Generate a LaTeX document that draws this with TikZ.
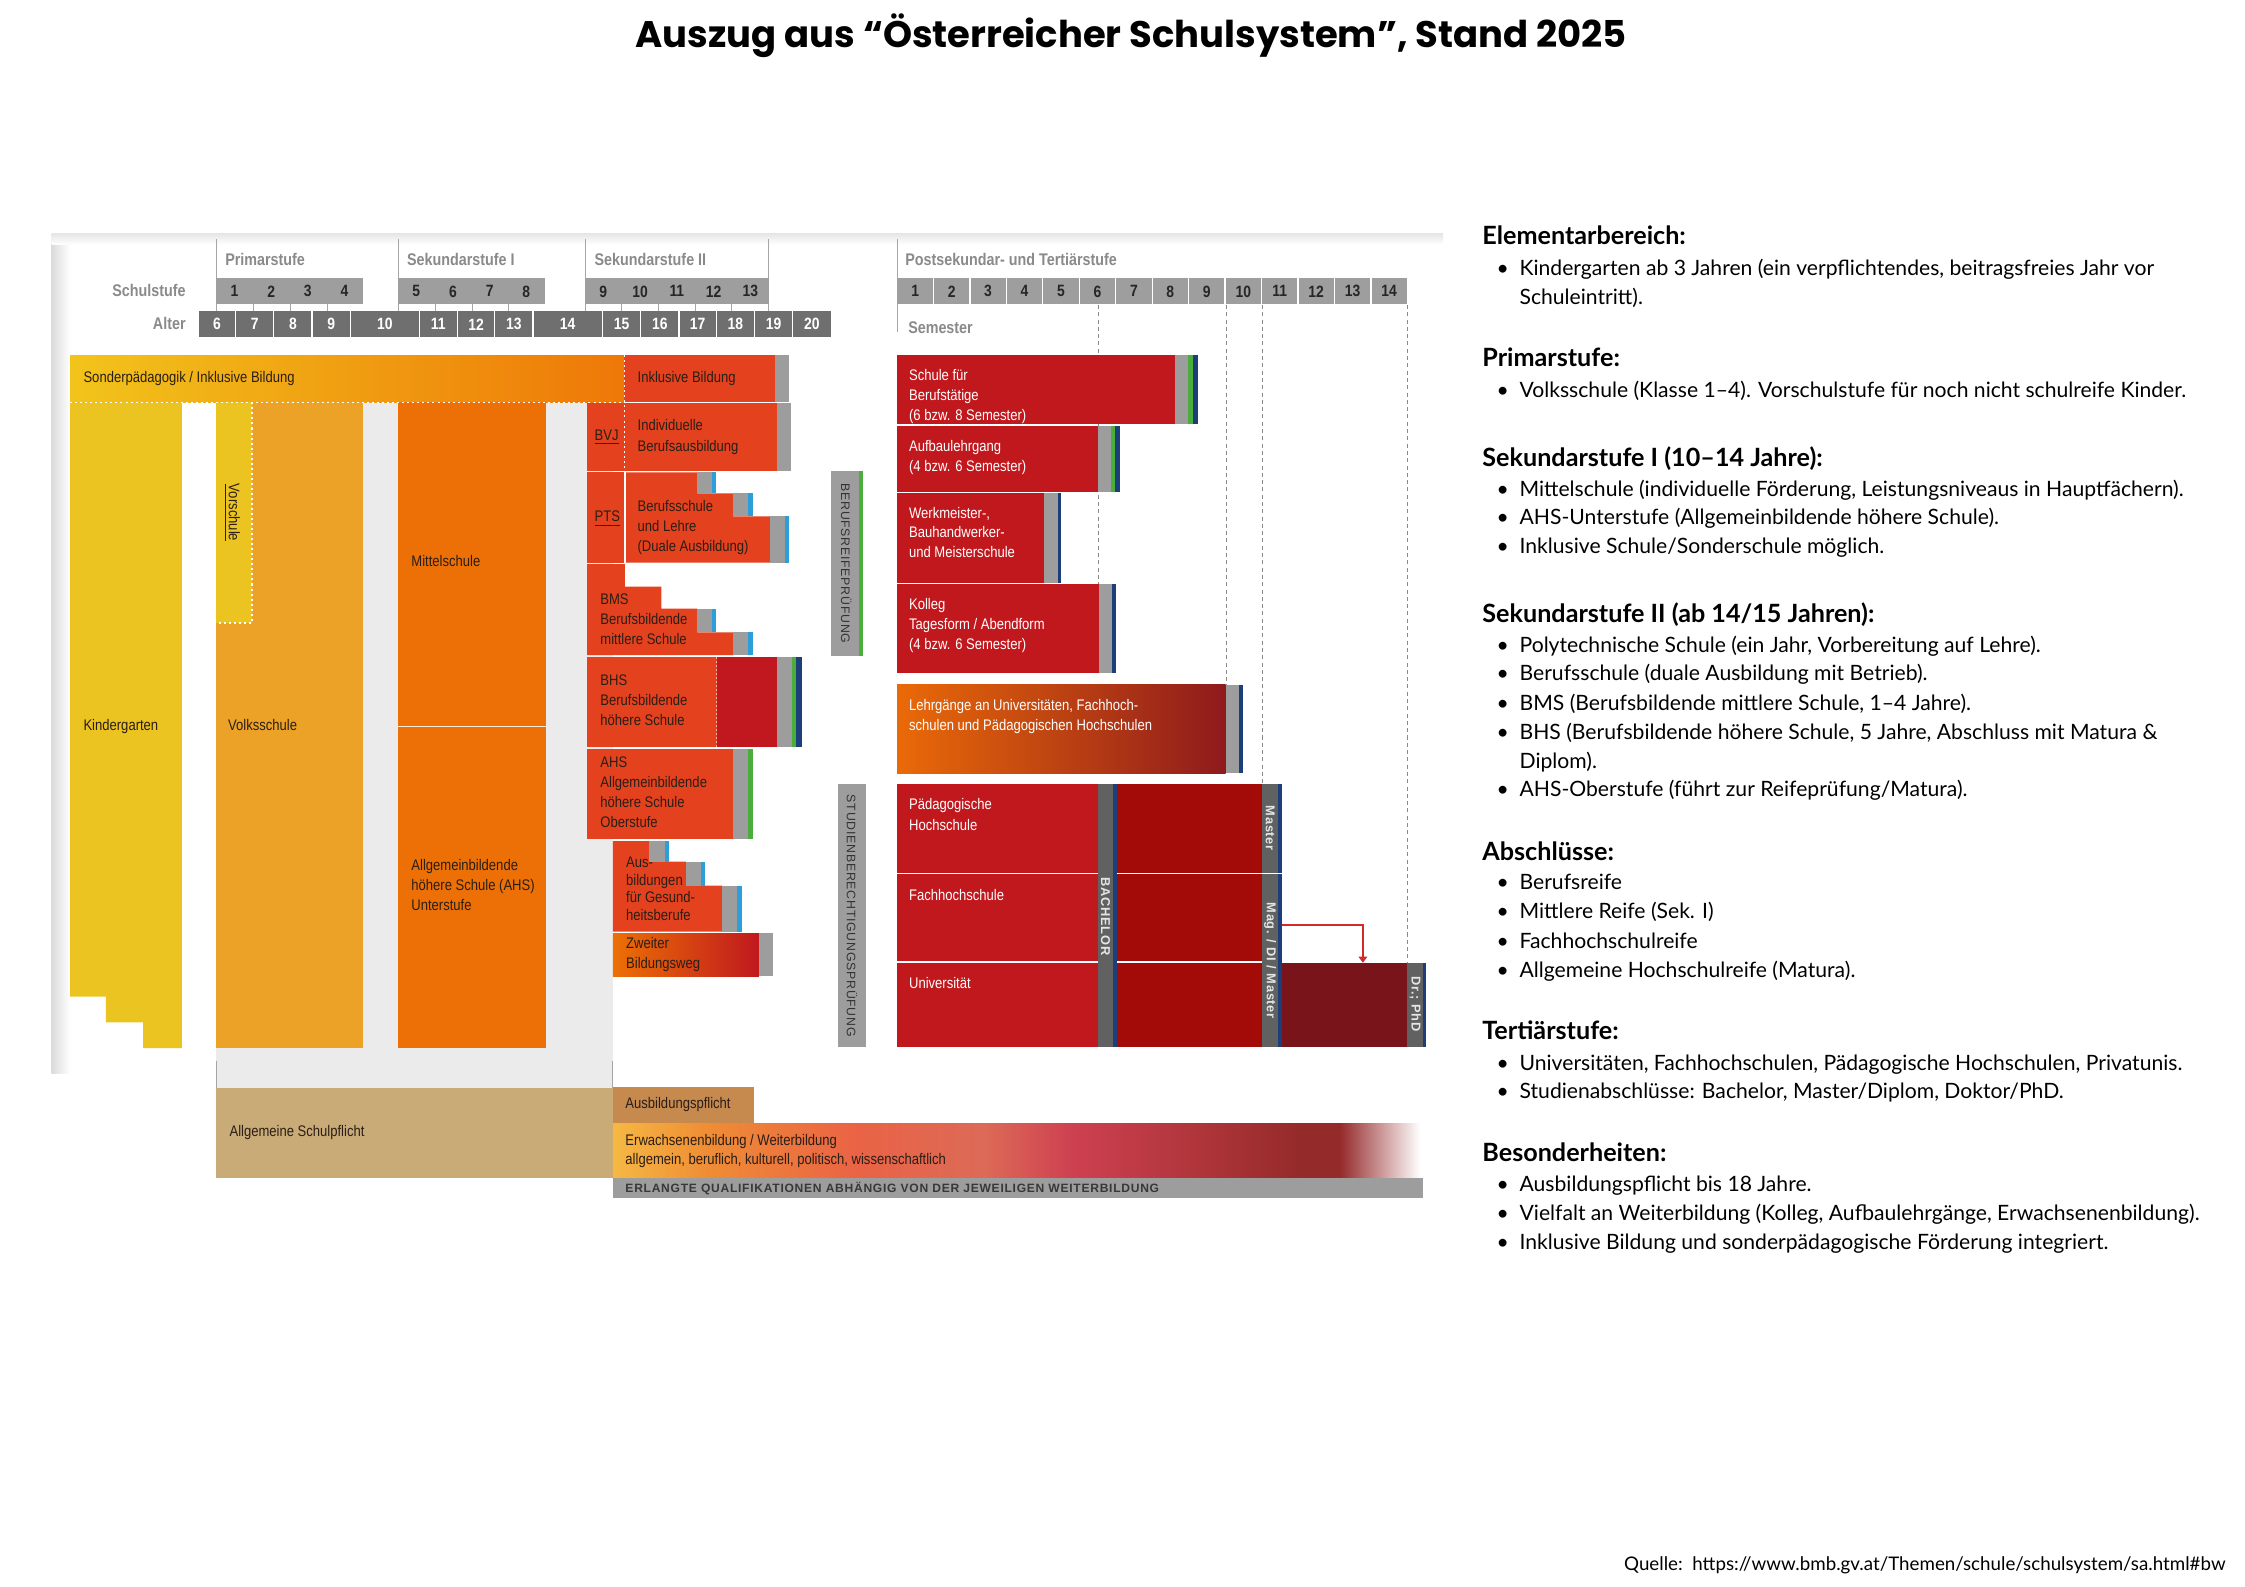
\documentclass[tikz,border=0pt]{standalone}
\usepackage{fontspec}
\setmainfont{Liberation Sans}
\newfontfamily\dgf{Liberation Sans}[FakeStretch=0.85]
\newfontfamily\capf{Liberation Sans}[LetterSpace=6]
\newfontfamily\latof{Lato}
\newfontfamily\titf{Poppins}
\usetikzlibrary{arrows.meta}

\definecolor{cSek}{HTML}{9E9E9E}
\definecolor{cAge}{HTML}{6F6F6F}
\definecolor{cLab}{HTML}{8A8A8A}
\definecolor{cKG}{HTML}{EBC422}
\definecolor{cVS}{HTML}{ECA226}
\definecolor{cMS}{HTML}{EC7005}
\definecolor{cRed}{HTML}{E4421E}
\definecolor{cBHS}{HTML}{C0181E}
\definecolor{cTer}{HTML}{C1181E}
\definecolor{cTerD}{HTML}{A30B08}
\definecolor{cPhD}{HTML}{7A141B}
\definecolor{cBar}{HTML}{9D9D9D}
\definecolor{cBarD}{HTML}{616161}
\definecolor{cGreen}{HTML}{4BAE3C}
\definecolor{cBlue}{HTML}{2C9FDB}
\definecolor{cNavy}{HTML}{1C3F7A}
\definecolor{cBg}{HTML}{EBEBEB}
\definecolor{cTan}{HTML}{C9AB77}
\definecolor{cTanD}{HTML}{C68A4F}
\definecolor{cArrow}{HTML}{D42A2A}
\definecolor{cTxt}{HTML}{2A1E16}
\definecolor{cSonA}{HTML}{F2C41B}
\definecolor{cSonB}{HTML}{EE7808}
\definecolor{cLehA}{HTML}{EA6A08}
\definecolor{cLehB}{HTML}{8E1A1C}
\definecolor{eA}{HTML}{F6B843}
\definecolor{eB}{HTML}{EF8C35}
\definecolor{eC}{HTML}{EA6345}
\definecolor{eD}{HTML}{DC6A57}
\definecolor{eE}{HTML}{CE4050}
\definecolor{eF}{HTML}{AC3439}
\definecolor{eG}{HTML}{952A2B}

\pgfdeclarehorizontalshading{erwshade}{100bp}{color(0bp)=(eA); color(25bp)=(eA); color(31bp)=(eB); color(40bp)=(eC); color(48bp)=(eD); color(53.5bp)=(eE); color(62bp)=(eF); color(67.5bp)=(eG); color(70bp)=(eG); color(75bp)=(white); color(100bp)=(white)}

\newcommand\mlines[6]{%
  \foreach \myline [count=\myidx from 0] in {#6} {\node[#1, anchor=base west] (#2\myidx) at (#3,{#4+#5*\myidx}) {\myline};}}
\newcommand\bitem[3]{\node[body] (#1d) at (1045,#2) {•}; \node[body] (#1) at (1061,#2) {#3};}
\newcommand\bcont[3]{\node[body] (#1) at (1061,#2) {#3};}

\begin{document}
\begin{tikzpicture}[x=0.2mm,y=-0.2mm,
  lbl/.style={font=\dgf\fontsize{6.1}{8}\selectfont, text=cTxt, inner sep=0},
  wl/.style={lbl, text=white},
  hdr/.style={font=\dgf\bfseries\fontsize{6.7}{8}\selectfont, text=cLab, inner sep=0},
  gnum/.style={font=\dgf\bfseries\fontsize{6.5}{8}\selectfont, text=black!85, inner sep=0},
  anum/.style={font=\dgf\bfseries\fontsize{6.5}{8}\selectfont, text=white, inner sep=0},
  vcap/.style={font=\capf\fontsize{4.9}{6}\selectfont, text=black!80, inner sep=0, rotate=-90},
  barlab/.style={font=\capf\bfseries\fontsize{5.1}{6}\selectfont, text=black!10, inner sep=0, rotate=-90},
  body/.style={font=\latof\fontsize{8.4}{10}\selectfont, inner sep=0, anchor=base west},
  head/.style={font=\latof\bfseries\fontsize{10}{12}\selectfont, inner sep=0, anchor=base west},
  hline/.style={draw=black!35, line width=0.4pt},
  sdash/.style={draw=cLab, line width=0.45pt, dash pattern=on 1.6pt off 1.3pt},
  wdot/.style={draw=white, line width=0.6pt, dash pattern=on 0.8pt off 1.2pt}
  ]
\fill[white] (0,0) rectangle (1568,1108);
\useasboundingbox (0,0) rectangle (1568,1108);

% title
\node[font=\titf\bfseries\fontsize{14.7}{17}\selectfont, anchor=base, inner sep=0] (title) at (790,33) {Auszug aus “Österreicher Schulsystem”, Stand 2025};

% page shadow
\shade[left color=black!14, right color=white] (36,166) rectangle (49,750);
\shade[top color=black!10, bottom color=white] (36,163) rectangle (1008,171);

% header lines and labels
\foreach \x in {151,278,409,537} \draw[hline] (\x,167) -- (\x,194);
\draw[hline] (626.5,167) -- (626.5,232);
\node[hdr, anchor=west] (hP) at (157,181) {Primarstufe};
\node[hdr, anchor=west] (hS1) at (284,181) {Sekundarstufe I};
\node[hdr, anchor=west] (hS2) at (415,181) {Sekundarstufe II};
\node[hdr, anchor=west] (hT) at (632,181) {Postsekundar- und Tertiärstufe};
\node[hdr, anchor=east] (lS) at (130,203) {Schulstufe};
\node[hdr, anchor=east] (lA) at (130,226) {Alter};
\node[hdr, anchor=west] (lSem) at (634,229) {Semester};

% Schulstufe boxes
\fill[cSek] (151,194) rectangle (253.5,212);
\fill[cSek] (278,194) rectangle (380.5,212);
\fill[cSek] (408.5,194) rectangle (537,212);
\fill[cSek] (626.5,194) rectangle (983,212);
\foreach \k in {1,...,13} \draw[white, line width=0.5pt] ({626.5+25.46*\k},194) -- ({626.5+25.46*\k},212);
\foreach \n [count=\i from 0] in {1,...,4} \node[gnum] (g\n) at ({163.8+25.6*\i},203.5) {\n};
\foreach \n [count=\i from 0] in {5,...,8} \node[gnum] (g\n) at ({290.8+25.6*\i},203.5) {\n};
\foreach \n [count=\i from 0] in {9,...,13} \node[gnum] (g\n) at ({421.35+25.7*\i},203.5) {\n};
\foreach \n [count=\i from 0] in {1,...,14} \node[gnum] (s\n) at ({639.2+25.46*\i},203.5) {\n};
\foreach \x in {151,177,203,229,278,304,330,355,408.6,434.1,459.8,485.9,511,537} \draw[hline] (\x,212) -- (\x,217);

% Alter
\foreach \a/\b/\t in {138.5/164.5/6,164.5/191.2/7,191.2/218/8,218/244.7/9,244.7/292.8/10,292.8/319.5/11,319.5/345.6/12,345.6/372.3/13,372.3/420.7/14,420.7/447.5/15,447.5/474.2/16,474.2/500.2/17,500.2/527/18,527/553.7/19,553.7/580.4/20}{
  \fill[cAge] (\a,217) rectangle (\b,235.5);
  \draw[white, line width=0.5pt] (\a,217) -- (\a,235.5);
  \node[anum] (age\t) at ({(\a+\b)/2},226.5) {\t};}

% dashed semester lines
\draw[sdash] (767,213) -- (767,470);
\draw[sdash] (856.5,213) -- (856.5,540);
\draw[sdash] (882,213) -- (882,548);
\draw[sdash] (983,213) -- (983,672);

% light grey background
\fill[cBg] (151,281) rectangle (428,760);

% Sonderpaedagogik bar
\shade[left color=cSonA, right color=cSonB] (49,248) rectangle (436,281);
\fill[cRed] (436,248) rectangle (541.3,281);
\fill[cBar] (541.3,248) rectangle (551.3,281);

% Kindergarten
\fill[cKG] (49,281) -- (127,281) -- (127,732) -- (100,732) -- (100,714) -- (74,714) -- (74,696) -- (49,696) -- cycle;
% Volksschule, Vorschule
\fill[cVS] (151,281) rectangle (253.5,732);
\fill[cKG] (151,281) rectangle (176,435);
\draw[wdot] (176,281) -- (176,435) -- (151,435);
% Mittelschule / AHS Unterstufe
\fill[cMS] (278,281) rectangle (381,732);
\draw[white!85!cMS, line width=0.6pt] (278,507.5) -- (381,507.5);

% Sek II blocks
\fill[cRed] (410,281.5) rectangle (542.4,329);
\fill[cBar] (542.4,281.5) rectangle (552.5,329);
\fill[cRed] (410,330) rectangle (436,393);
\fill[cRed] (437,330) -- (487,330) -- (487,344.6) -- (512,344.6) -- (512,360.6) -- (538,360.6) -- (538,393) -- (437,393) -- cycle;
\fill[cBar] (487,330) rectangle (497.5,344.6); \fill[cBlue] (497.5,330) rectangle (500,344.6);
\fill[cBar] (512,344.6) rectangle (522.6,360.6); \fill[cBlue] (522.6,344.6) rectangle (525.6,360.6);
\fill[cBar] (538,360.6) rectangle (548.2,393); \fill[cBlue] (548.2,360.6) rectangle (551.2,393);
% BMS
\fill[cRed] (410,394) -- (436.5,394) -- (436.5,409.7) -- (462,409.7) -- (462,425) -- (487,425) -- (487,441.6) -- (512,441.6) -- (512,457.5) -- (410,457.5) -- cycle;
\fill[cBar] (487,425) rectangle (497.5,441.6); \fill[cBlue] (497.5,425) rectangle (500,441.6);
\fill[cBar] (512,441.6) rectangle (522.6,457.5); \fill[cBlue] (522.6,441.6) rectangle (525.6,457.5);
% BHS
\fill[cRed] (410,458.6) rectangle (500.5,522);
\fill[cBHS] (500.5,458.6) rectangle (543,522);
\draw[white!60!cRed, line width=0.5pt, dash pattern=on 0.8pt off 0.8pt] (500.5,458.6) -- (500.5,522);
\fill[cBar] (543,458.6) rectangle (553,522); \fill[cGreen] (553,458.6) rectangle (556,522); \fill[cNavy] (556,458.6) rectangle (560,522);
% AHS Oberstufe
\fill[cRed] (410,523) rectangle (512,586);
\fill[cBar] (512,523) rectangle (522.6,586); \fill[cGreen] (522.6,523) rectangle (525.7,586);
% Gesundheitsberufe
\fill[cRed] (428,587.4) -- (453.5,587.4) -- (453.5,601.8) -- (479,601.8) -- (479,618.6) -- (504.3,618.6) -- (504.3,650.7) -- (428,650.7) -- cycle;
\fill[cBar] (453.5,587.4) rectangle (464.5,601.8); \fill[cBlue] (464.5,587.4) rectangle (467.5,601.8);
\fill[cBar] (479,601.8) rectangle (489.6,618.6); \fill[cBlue] (489.6,601.8) rectangle (492.4,618.6);
\fill[cBar] (504.3,618.6) rectangle (514.5,650.7); \fill[cBlue] (514.5,618.6) rectangle (518,650.7);
% Zweiter Bildungsweg
\shade[left color=cMS, right color=cBHS] (428,651.9) rectangle (530,681.7);
\fill[cBar] (530,651.9) rectangle (540,681.7);

% dotted white lines
\draw[wdot] (49,281) -- (551,281);
\draw[wdot] (436,248) -- (436,329);
\draw[white, line width=0.6pt] (436.5,330) -- (436.5,393);

% Pruefungs-Balken
\fill[cBar] (580.2,329) rectangle (600.2,458); \fill[cGreen] (600.2,329) rectangle (603,458);
\fill[cBar] (585,547.8) rectangle (605,731.5);

% Tertiary
\fill[cTer] (626.5,248) rectangle (820.4,296.4);
\fill[cBar] (820.4,248) rectangle (829.6,296.4); \fill[cGreen] (829.6,248) rectangle (833.2,296.4); \fill[cNavy] (833.2,248) rectangle (836.6,296.4);
\fill[cTer] (626.5,297.3) rectangle (766.8,343.4);
\fill[cBar] (766.8,297.3) rectangle (776.2,343.4); \fill[cGreen] (776.2,297.3) rectangle (778.7,343.4); \fill[cNavy] (778.7,297.3) rectangle (782.5,343.4);
\fill[cTer] (626.5,344.5) rectangle (729.4,407);
\fill[cBar] (729.4,344.5) rectangle (738.6,407); \fill[cNavy] (738.6,344.5) rectangle (741.3,407);
\fill[cTer] (626.5,408) rectangle (767.3,470.3);
\fill[cBar] (767.3,408) rectangle (776.7,470.3); \fill[cNavy] (776.7,408) rectangle (779.7,470.3);
\shade[left color=cLehA, right color=cLehB] (626.5,478.4) rectangle (856,540);
\fill[cBar] (856,478.4) rectangle (865.3,540); \fill[cNavy] (865.3,478.4) rectangle (868.3,540);

\fill[cTer] (626.5,547.8) rectangle (766.8,731);
\fill[cBarD] (766.8,547.8) rectangle (777.5,731); \fill[cNavy] (777.5,547.8) rectangle (780,731);
\fill[cTerD] (780,547.8) rectangle (881.5,731);
\fill[cBarD] (881.5,547.8) rectangle (892.7,731); \fill[cNavy] (892.7,547.8) rectangle (895.2,731);
\draw[white, line width=0.6pt] (626.5,610) -- (766.8,610);
\draw[white, line width=0.6pt] (780,610) -- (895.2,610);
\draw[white, line width=0.6pt] (626.5,672) -- (766.8,672);
\draw[white, line width=0.6pt] (780,672) -- (881.5,672);
\fill[cPhD] (895.2,672.4) rectangle (983,731);
\fill[cBarD] (983,672.4) rectangle (993.8,731); \fill[cNavy] (993.8,672.4) rectangle (996.2,731);
\coordinate (magR) at (895.2,646);
\coordinate (drT) at (951.9,672.4);
\draw[cArrow, line width=0.5pt, -{Triangle[length=2.4pt,width=3.4pt]}] (magR) -| (drT);

% bottom
\draw[hline] (428,741) -- (428,760);
\draw[hline] (151,741) -- (151,823);
\fill[cTan] (151,760) rectangle (428,823);
\fill[cTanD] (428,759) rectangle (526.3,784.6);
\shade[shading=erwshade] (428,784.6) rectangle (992,823);
\fill[cBar] (428,823) rectangle (994,837);

% ---- texts ----
\node[lbl, anchor=base west] (tSon) at (58,267) {Sonderpädagogik / Inklusive Bildung};
\node[lbl, anchor=base west] (tInk) at (445,267) {Inklusive Bildung};
\node[lbl, anchor=base west] (tBVJ) at (415,307.5) {\underline{BVJ}};
\mlines{lbl}{tInd}{445}{301}{14}{Individuelle,Berufsausbildung}
\node[lbl, anchor=base west] (tPTS) at (415,364.5) {\underline{PTS}};
\mlines{lbl}{tBS}{445}{357.5}{14}{Berufsschule,und Lehre,{(Duale Ausbildung)}}
\mlines{lbl}{tBMS}{419}{422}{14}{BMS,Berufsbildende,mittlere Schule}
\mlines{lbl}{tBHS}{419}{479}{14}{BHS,Berufsbildende,höhere Schule}
\mlines{lbl}{tAHS}{419}{536}{14}{AHS,Allgemeinbildende,höhere Schule,Oberstufe}
\mlines{lbl}{tGes}{437}{606}{12.3}{Aus-,bildungen,für Gesund-,heitsberufe}
\mlines{lbl}{tZw}{437}{662.5}{14}{Zweiter,Bildungsweg}
\node[lbl, anchor=base west] (tKG) at (58,510) {Kindergarten};
\node[lbl, anchor=base west] (tVS) at (159,510) {Volksschule};
\node[lbl, anchor=base west] (tMS) at (287,396) {Mittelschule};
\mlines{lbl}{tAHSU}{287}{608}{14}{Allgemeinbildende,{höhere Schule (AHS)},Unterstufe}
\node[lbl, rotate=-90] (tVor) at (162,358) {\underline{Vorschule}};

\mlines{wl}{tSfB}{634.6}{266}{13.7}{Schule für,Berufstätige,{(6 bzw. 8 Semester)}}
\mlines{wl}{tAuf}{634.6}{315.4}{13.7}{Aufbaulehrgang,{(4 bzw. 6 Semester)}}
\mlines{wl}{tWer}{634.6}{362}{13.7}{{Werkmeister-,},Bauhandwerker-,und Meisterschule}
\mlines{wl}{tKol}{634.6}{426}{13.7}{Kolleg,Tagesform / Abendform,{(4 bzw. 6 Semester)}}
\mlines{wl}{tLeh}{634.6}{496.5}{13.5}{{Lehrgänge an Universitäten, Fachhoch-},schulen und Pädagogischen Hochschulen}
\mlines{wl}{tPH}{634.6}{565.7}{14}{Pädagogische,Hochschule}
\node[wl, anchor=base west] (tFH) at (634.6,628.6) {Fachhochschule};
\node[wl, anchor=base west] (tUni) at (634.6,690.3) {Universität};

\node[vcap] (tBRP) at (591,393.5) {BERUFSREIFEPRÜFUNG};
\node[vcap] (tSBP) at (595,639.7) {STUDIENBERECHTIGUNGSPRÜFUNG};
\node[barlab] (tBach) at (772.2,640) {BACHELOR};
\node[barlab] (tMaster) at (887.1,578.5) {Master};
\node[barlab] (tMag) at (887.1,671) {Mag. / DI / Master};
\node[barlab] (tDr) at (988.4,701) {Dr.; PhD};

\node[lbl, anchor=base west] (tAS) at (160,794) {Allgemeine Schulpflicht};
\node[lbl, anchor=base west] (tAP) at (436.5,774) {Ausbildungspflicht};
\mlines{lbl}{tErw}{436.5}{800.3}{13.3}{Erwachsenenbildung / Weiterbildung,{allgemein, beruflich, kulturell, politisch, wissenschaftlich}}
\node[font=\capf\bfseries\fontsize{4.8}{6}\selectfont, text=black!78, inner sep=0, anchor=west] (tERL) at (436.5,830) {ERLANGTE QUALIFIKATIONEN ABHÄNGIG VON DER JEWEILIGEN WEITERBILDUNG};

% ---- right panel ----
\node[head] (h1) at (1035,171) {Elementarbereich:};
\bitem{b1}{192.5}{Kindergarten ab 3 Jahren (ein verpflichtendes, beitragsfreies Jahr vor}
\bcont{b1c}{212.5}{Schuleintritt).}
\node[head] (h2) at (1035,256) {Primarstufe:};
\bitem{b2}{277.5}{Volksschule (Klasse 1–4). Vorschulstufe für noch nicht schulreife Kinder.}
\node[head] (h3) at (1035,326) {Sekundarstufe I (10–14 Jahre):};
\bitem{b3a}{346.5}{Mittelschule (individuelle Förderung, Leistungsniveaus in Hauptfächern).}
\bitem{b3b}{366.5}{AHS-Unterstufe (Allgemeinbildende höhere Schule).}
\bitem{b3c}{386.5}{Inklusive Schule/Sonderschule möglich.}
\node[head] (h4) at (1035,435) {Sekundarstufe II (ab 14/15 Jahren):};
\bitem{b4a}{455.5}{Polytechnische Schule (ein Jahr, Vorbereitung auf Lehre).}
\bitem{b4b}{475.5}{Berufsschule (duale Ausbildung mit Betrieb).}
\bitem{b4c}{496.5}{BMS (Berufsbildende mittlere Schule, 1–4 Jahre).}
\bitem{b4d}{516.5}{BHS (Berufsbildende höhere Schule, 5 Jahre, Abschluss mit Matura \&}
\bcont{b4dc}{536.5}{Diplom).}
\bitem{b4e}{556.5}{AHS-Oberstufe (führt zur Reifeprüfung/Matura).}
\node[head] (h5) at (1035,601) {Abschlüsse:};
\bitem{b5a}{621.5}{Berufsreife}
\bitem{b5b}{641.5}{Mittlere Reife (Sek. I)}
\bitem{b5c}{662.5}{Fachhochschulreife}
\bitem{b5d}{682.5}{Allgemeine Hochschulreife (Matura).}
\node[head] (h6) at (1035,726) {Tertiärstufe:};
\bitem{b6a}{747.5}{Universitäten, Fachhochschulen, Pädagogische Hochschulen, Privatunis.}
\bitem{b6b}{767.5}{Studienabschlüsse: Bachelor, Master/Diplom, Doktor/PhD.}
\node[head] (h7) at (1035,811) {Besonderheiten:};
\bitem{b7a}{832.5}{Ausbildungspflicht bis 18 Jahre.}
\bitem{b7b}{852.5}{Vielfalt an Weiterbildung (Kolleg, Aufbaulehrgänge, Erwachsenenbildung).}
\bitem{b7c}{872.5}{Inklusive Bildung und sonderpädagogische Förderung integriert.}

\node[body, font=\latof\fontsize{7.45}{9}\selectfont] (src) at (1134,1097) {Quelle:\ \ https://www.bmb.gv.at/Themen/schule/schulsystem/sa.html\#bw};
\end{tikzpicture}
\end{document}
